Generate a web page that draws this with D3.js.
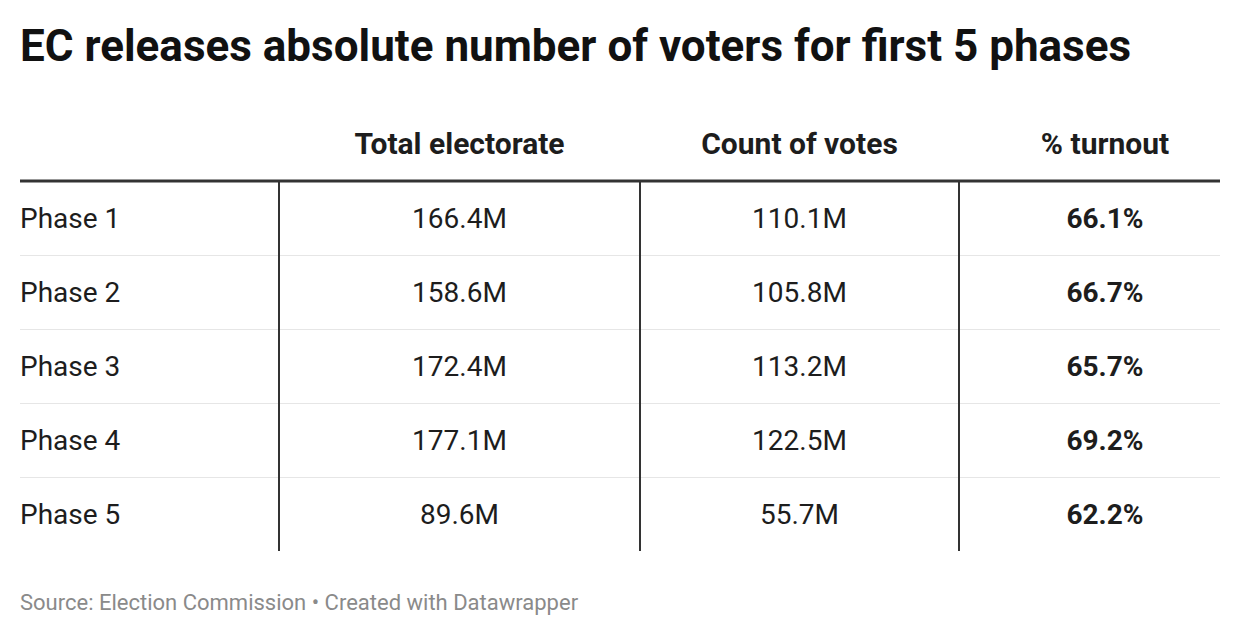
<!DOCTYPE html>
<html>
<head>
<meta charset="utf-8">
<script src="https://cdn.jsdelivr.net/npm/d3@7"></script>
<style>
  html, body { margin: 0; padding: 0; background: #fff; }
  svg { display: block; font-family: Roboto, "Noto Sans", sans-serif; }
</style>
</head>
<body>
<svg id="chart" width="1240" height="636"></svg>
<script>
const title = "EC releases absolute number of voters for first 5 phases";
const footer = "Source: Election Commission \u2022 Created with Datawrapper";
const headers = ["", "Total electorate", "Count of votes", "% turnout"];
const phases = ["Phase 1", "Phase 2", "Phase 3", "Phase 4", "Phase 5"];
const totalElectorate = [166.4, 158.6, 172.4, 177.1, 89.6];
const countOfVotes = [110.1, 105.8, 113.2, 122.5, 55.7];
const turnout = [66.1, 66.7, 65.7, 69.2, 62.2];

const svg = d3.select("#chart");
const left = 20, right = 1220;
const tableTop = 181, rowH = 74;

// column boundaries and text centres
const colEdges = [left, 279, 640, 959, right];
const colCenters = [null, 459.5, 799.5, 1105];

const y = d3.scaleBand().domain(phases).range([tableTop, tableTop + rowH * phases.length]).padding(0);

// title
svg.append("text")
  .attr("x", left).attr("y", 61)
  .attr("font-size", 44).attr("font-weight", 700).attr("fill", "#111")
  .text(title);

// headers
svg.selectAll("text.hdr").data(headers.slice(1)).join("text")
  .attr("class", "hdr")
  .attr("x", (d, i) => colCenters[i + 1]).attr("y", 154)
  .attr("text-anchor", "middle")
  .attr("font-size", 30).attr("font-weight", 700).attr("fill", "#1d1d1d")
  .text(d => d);

// row separators
svg.selectAll("line.sep").data(phases.slice(1)).join("line")
  .attr("class", "sep")
  .attr("x1", left).attr("x2", right)
  .attr("y1", d => y(d) + 0.5).attr("y2", d => y(d) + 0.5)
  .attr("stroke", "#e6e6e6").attr("stroke-width", 1);

// vertical column dividers
svg.selectAll("line.vdiv").data(colEdges.slice(1, 4)).join("line")
  .attr("class", "vdiv")
  .attr("x1", d => d).attr("x2", d => d)
  .attr("y1", tableTop).attr("y2", y.range()[1])
  .attr("stroke", "#333").attr("stroke-width", 2);

// thick header rule
svg.append("line")
  .attr("x1", left).attr("x2", right)
  .attr("y1", tableTop).attr("y2", tableTop)
  .attr("stroke", "#333").attr("stroke-width", 3);

const fmtM = d => d3.format(".1f")(d) + "M";
const fmtP = d => d3.format(".1f")(d) + "%";

const rows = phases.map((p, i) => ({p, te: totalElectorate[i], cv: countOfVotes[i], t: turnout[i]}));

const g = svg.selectAll("g.row").data(rows).join("g")
  .attr("class", "row")
  .attr("transform", d => `translate(0,${y(d.p) + y.bandwidth() / 2})`);

g.append("text").attr("x", left).attr("dy", "0.35em")
  .attr("font-size", 28).attr("fill", "#1d1d1d").text(d => d.p);
g.append("text").attr("x", colCenters[1]).attr("dy", "0.35em").attr("text-anchor", "middle")
  .attr("font-size", 28).attr("fill", "#1d1d1d").text(d => fmtM(d.te));
g.append("text").attr("x", colCenters[2]).attr("dy", "0.35em").attr("text-anchor", "middle")
  .attr("font-size", 28).attr("fill", "#1d1d1d").text(d => fmtM(d.cv));
g.append("text").attr("x", colCenters[3]).attr("dy", "0.35em").attr("text-anchor", "middle")
  .attr("font-size", 28).attr("font-weight", 700).attr("fill", "#1d1d1d").text(d => fmtP(d.t));

// footer
svg.append("text")
  .attr("x", left).attr("y", 610)
  .attr("font-size", 22).attr("fill", "#8a8a8a")
  .text(footer);
</script>
</body>
</html>
